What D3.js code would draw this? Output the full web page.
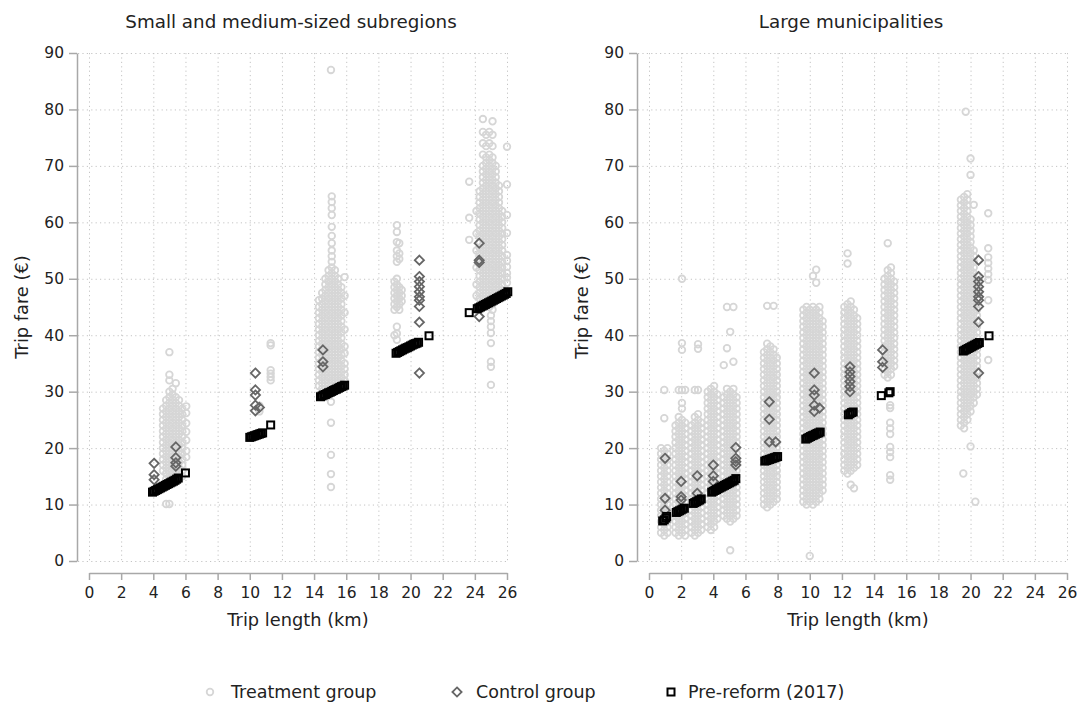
<!DOCTYPE html>
<html>
<head>
<meta charset="utf-8">
<script src="https://cdn.jsdelivr.net/npm/d3@7"></script>
<style>
  body { margin: 0; background: #fff; }
  svg { display: block; }
</style>
</head>
<body>
<svg id="chart" width="1084" height="708"></svg>
<script>
// ---- axis ticks and labels ----
const xTicks = [0, 2, 4, 6, 8, 10, 12, 14, 16, 18, 20, 22, 24, 26];
const yTicks = [0, 10, 20, 30, 40, 50, 60, 70, 80, 90];
const panelTitles = ["Small and medium-sized subregions", "Large municipalities"];
const xTitle = "Trip length (km)";
const yTitle = "Trip fare (€)";
const legendLabels = ["Treatment group", "Control group", "Pre-reform (2017)"];

// ---- Small and medium-sized subregions ----
// treatment trips: [trip length km, [fares €]]
const smallTreatment = [
  [4.6, [16,17,18,19,20,21,22,23,24,25,26,27]],
  [4.8, [10.1,14.5,15.5,16.5,17.5,18.5,19.5,20.5,21.5,22.5,23.5,24.5,25.5,26.5,27.5,28.5]],
  [5.0, [10.1,14,15,16,17,18,19,20,21,22,23,24,25,26,27,28,29,30,32,33,37]],
  [5.2, [14.5,15.5,16.5,17.5,18.5,19.5,20.5,21.5,22.5,23.5,24.5,25.5,26.5,27.5,28.5,29.5,30.5]],
  [5.4, [14,15,16,17,18,19,20,21,22,23,24,25,26,27,28,29,31.5]],
  [5.6, [14.5,15.5,16.5,17.5,18.5,19.5,20.5,21.5,22.5,23.5,24.5,25.5,26.5,27.5,28.5]],
  [5.8, [15,16,17,18,19,20,21,22,23,24,25,26,27]],
  [6.05, [18.4,19.5,21.4,22.9,24.4,26.2,27.4]],
  [10.6, [26.5,27.5]],
  [11.3, [32,32.6,33.2,33.8,38.2,38.6]],
  [14.3, [31,32,33,34,35,36,37,38,39,40,41,42,43,44,45,46.2]],
  [14.5, [30.5,31.5,32.5,33.5,34.5,35.5,36.5,37.5,38.5,39.5,40.5,41.5,42.5,43.5,44.5,45.5,46.5,47.5]],
  [14.7, [30,31,32,33,34,35,36,37,38,39,40,41,42,43,44,45,46,47,48,49,50]],
  [14.9, [29.5,30.5,31.5,32.5,33.5,34.5,35.5,36.5,37.5,38.5,39.5,40.5,41.5,42.5,43.5,44.5,45.5,46.5,47.5,48.5,49.5,50.5,51.5]],
  [15.05, [13.1,15.4,18.8,24.5,28.2,87]],
  [15.1, [30,31,32,33,34,35,36,37,38,39,40,41,42,43,44,45,46,47,48,49,50,51,52,53,54,55,56.3,57.6,59.2,61.3,62.5,63.6,64.6]],
  [15.3, [30.5,31.5,32.5,33.5,34.5,35.5,36.5,37.5,38.5,39.5,40.5,41.5,42.5,43.5,44.5,45.5,46.5,47.5,48.5,49.5,50.5,51.5]],
  [15.5, [31,32,33,34,35,36,37,38,39,40,41,42,43,44,45,46,47,48,49,50]],
  [15.7, [31.5,32.5,33.5,34.5,35.5,36.5,37.5,38.5,39.5,40.5,41.5,42.5,43.5,44.5,45.5,46.5,47.5,48.5]],
  [15.9, [32,33,34,35,36.8,38,41,44,47,50.3]],
  [19.0, [40,44.5,45.5,46.5,47.5,48.5,49.5]],
  [19.15, [39.2,40.3,41.5,45,46,47,48,49,50,53,54,55,56.5,58.3,59.5]],
  [19.3, [44.5,45.5,46.5,47.5,48.5,53.5,54.5,56.3]],
  [19.45, [46,47,48]],
  [23.65, [56.9,60.8,67.2]],
  [24.1, [47,49,52,55,58,62]],
  [24.3, [46.5,47.5,48.5,49.5,50.5,51.5,52.5,53.5,54.5,55.5,56.5,57.5,58.5,59.5,60.5,61.5,62.5,63.5,64.5,65.5]],
  [24.5, [45,46,47,48,49,50,51,52,53,54,55,56,57,58,59,60,61,62,63,64,65,66,67,68,69,70,72,74,76,78.3]],
  [24.7, [45.5,46.5,47.5,48.5,49.5,50.5,51.5,52.5,53.5,54.5,55.5,56.5,57.5,58.5,59.5,60.5,61.5,62.5,63.5,64.5,65.5,66.5,67.5,68.5,69.5,70.5,71.5,73.5,75.5]],
  [24.9, [45,46,47,48,49,50,51,52,53,54,55,56,57,58,59,60,61,62,63,64,65,66,67,68,69,70,71,72,74,76]],
  [25.0, [31.2,34.4,35.3,38.6,40.4,41.5,42.5,43.5]],
  [25.1, [44.5,45.5,46.5,47.5,48.5,49.5,50.5,51.5,52.5,53.5,54.5,55.5,56.5,57.5,58.5,59.5,60.5,61.5,62.5,63.5,64.5,65.5,66.5,67.5,68.5,69.5,70.5,71.5,73.5,75.5,77.9]],
  [25.3, [46,47,48,49,50,51,52,53,54,55,56,57,58,59,60,61,62,63,64,65,66,67,68,69,70]],
  [25.5, [46.5,47.5,48.5,49.5,50.5,51.5,52.5,53.5,54.5,55.5,56.5,57.5,58.5,59.5,60.5,61.5,62.5,63.5,64.5,65.5,66.5]],
  [25.7, [47,48,49,50,51,52,53,54,55,56,57,58,59,60,61,62]],
  [26.0, [49.3,50.2,51,52.1,53.2,54.2,58.1,61.3,66.7,73.4]]
];
// control trips: [km, €]
const smallControl = [
  [4.05,17.3],[4.05,15.3],[4.05,14.4],
  [5.4,20.2],[5.4,18.3],[5.4,17.4],[5.4,16.8],
  [10.35,33.3],[10.35,30.3],[10.35,29.4],[10.35,27.6],[10.35,26.6],[10.6,27.2],
  [14.55,37.4],[14.55,35.3],[14.55,34.4],
  [20.55,53.3],[20.55,50.4],[20.55,49.5],[20.55,48.6],[20.55,47.7],[20.55,46.8],[20.55,46.2],[20.55,45.1],[20.55,42.3],[20.55,33.3],
  [24.27,56.3],[24.27,53.3],[24.27,52.9],[24.27,43.3]
];
// pre-reform fares (2017): [km, €]
const smallPreReform = [
  [3.95,12.2],[4.05,12.35],[4.15,12.5],[4.25,12.65],[4.35,12.8],[4.45,12.95],[4.55,13.1],[4.65,13.25],[4.75,13.4],
  [4.85,13.55],[4.95,13.7],[5.05,13.85],[5.15,14.0],[5.25,14.15],[5.35,14.3],[5.45,14.5],[5.55,14.7],[6.0,15.6],
  [10.0,21.9],[10.1,22.0],[10.2,22.1],[10.3,22.2],[10.4,22.3],[10.5,22.4],[10.6,22.5],[10.7,22.6],[10.8,22.7],[11.3,24.1],
  [14.4,29.1],[14.5,29.25],[14.6,29.4],[14.7,29.5],[14.8,29.65],[14.9,29.8],[15.0,29.9],[15.1,30.05],
  [15.2,30.2],[15.3,30.35],[15.4,30.45],[15.5,30.6],[15.6,30.75],[15.7,30.9],[15.8,31.0],[15.9,31.15],
  [19.1,36.8],[19.2,36.95],[19.3,37.1],[19.4,37.25],[19.5,37.4],[19.6,37.55],[19.7,37.7],[19.8,37.8],
  [19.9,37.95],[20.0,38.1],[20.1,38.25],[20.2,38.4],[20.3,38.5],[20.4,38.6],[20.5,38.75],[21.15,39.9],
  [23.65,44.0],[24.15,44.7],[24.25,44.85],[24.35,45.0],[24.45,45.15],[24.55,45.3],[24.65,45.45],[24.75,45.6],
  [24.85,45.75],[24.95,45.9],[25.05,46.05],[25.15,46.2],[25.25,46.35],[25.35,46.5],[25.45,46.65],[25.55,46.8],
  [25.65,46.95],[25.75,47.1],[25.85,47.25],[25.95,47.4],[26.05,47.7]
];

// ---- Large municipalities ----
const largeTreatment = [
  [0.75, [5,6,7,8,9,10,11,12,13,14,15,16,17,18,19,20]],
  [0.95, [4.5,5.5,6.5,7.5,8.5,9.5,10.5,11.5,12.5,13.5,14.5,15.5,16.5,17.5,18.5,19.5,25.3,30.3]],
  [1.15, [5,6,7,8,9,10,11,12,13,14,15,16,17,18,19,20]],
  [1.65, [5,6,7,8,9,10,11,12,13,14,15,16,17,18,19,20,21,22,23,24]],
  [1.85, [4.5,5.5,6.5,7.5,8.5,9.5,10.5,11.5,12.5,13.5,14.5,15.5,16.5,17.5,18.5,19.5,20.5,21.5,22.5,23.5,24.5,25.5,30.3]],
  [2.05, [5,6,7,8,9,10,11,12,13,14,15,16,17,18,19,20,21,22,23,24,25,27,28,30.3,37.4,38.6,50]],
  [2.25, [4.5,5.5,6.5,7.5,8.5,9.5,10.5,11.5,12.5,13.5,14.5,15.5,16.5,17.5,18.5,19.5,20.5,21.5,22.5,23.5,24.5,30.3]],
  [2.65, [5,6,7,8,9,10,11,12,13,14,15,16,17,18,19,20,21,22,23,24]],
  [2.85, [4.5,5.5,6.5,7.5,8.5,9.5,10.5,11.5,12.5,13.5,14.5,15.5,16.5,17.5,18.5,19.5,20.5,21.5,22.5,23.5,24.5,25.5,30.3]],
  [3.05, [5,6,7,8,9,10,11,12,13,14,15,16,17,18,19,20,21,22,23,24,25,26,30.3,37.6,38.4]],
  [3.25, [5.5,6.5,7.5,8.5,9.5,10.5,11.5,12.5,13.5,14.5,15.5,16.5,17.5,18.5,19.5,20.5,21.5,22.5,23.5,24.5]],
  [3.65, [6,7,8,9,10,11,12,13,14,15,16,17,18,19,20,21,22,23,24,25,26,27,28,29,30]],
  [3.85, [5.5,6.5,7.5,8.5,9.5,10.5,11.5,12.5,13.5,14.5,15.5,16.5,17.5,18.5,19.5,20.5,21.5,22.5,23.5,24.5,25.5,26.5,27.5,28.5,29.5,30.5]],
  [4.05, [6,7,8,9,10,11,12,13,14,15,16,17,18,19,20,21,22,23,24,25,26,27,28,29,30,31]],
  [4.25, [7.5,8.5,9.5,10.5,11.5,12.5,13.5,14.5,15.5,16.5,17.5,18.5,19.5,20.5,21.5,22.5,23.5,24.5,25.5,26.5,27.5,28.5,29.5]],
  [4.65, [8,9,10,11,12,13,14,15,16,17,18,19,20,21,22,23,24,25,26,27,28,29,34.7]],
  [4.85, [7.5,8.5,9.5,10.5,11.5,12.5,13.5,14.5,15.5,16.5,17.5,18.5,19.5,20.5,21.5,22.5,23.5,24.5,25.5,26.5,27.5,28.5,29.5,30.5,37.7,45]],
  [5.05, [1.9,7,8,9,10,11,12,13,14,15,16,17,18,19,20,21,22,23,24,25,26,27,28,29,30,40.6]],
  [5.25, [7.5,8.5,9.5,10.5,11.5,12.5,13.5,14.5,15.5,16.5,17.5,18.5,19.5,20.5,21.5,22.5,23.5,24.5,25.5,26.5,27.5,28.5,29.5,30.5,35.3,45]],
  [5.45, [8,9,10,11,12,13,14,15,16,17,18,19,20,21,22,23,24,25,26,27,28,29]],
  [7.15, [10,11,12,13,14,15,16,17,18,19,20,21,22,23,24,25,26,27,28,29,30,31,32,33,34,35,36,37]],
  [7.35, [9.5,10.5,11.5,12.5,13.5,14.5,15.5,16.5,17.5,18.5,19.5,20.5,21.5,22.5,23.5,24.5,25.5,26.5,27.5,28.5,29.5,30.5,31.5,32.5,33.5,34.5,35.5,36.5,37.5,38.5,45.2]],
  [7.55, [10,11,12,13,14,15,16,17,18,19,20,21,22,23,24,25,26,27,28,29,30,31,32,33,34,35,36,37,38]],
  [7.75, [10.5,11.5,12.5,13.5,14.5,15.5,16.5,17.5,18.5,19.5,20.5,21.5,22.5,23.5,24.5,25.5,26.5,27.5,28.5,29.5,30.5,31.5,32.5,33.5,34.5,35.5,36.5,37.5,45.2]],
  [7.95, [11,12,13,14,15,16,17,18,19,20,21,22,23,24,25,26,27,28,29,30,31,32,33,34,35,36]],
  [9.6, [10.5,11.5,12.5,13.5,14.5,15.5,16.5,17.5,18.5,19.5,20.5,21.5,22.5,23.5,24.5,25.5,26.5,27.5,28.5,29.5,30.5,31.5,32.5,33.5,34.5,35.5,36.5,37.5,38.5,39.5,40.5,41.5,42.5,43.5,44.5]],
  [9.8, [10,11,12,13,14,15,16,17,18,19,20,21,22,23,24,25,26,27,28,29,30,31,32,33,34,35,36,37,38,39,40,41,42,43,44,45]],
  [10.0, [0.9,10.5,11.5,12.5,13.5,14.5,15.5,16.5,17.5,18.5,19.5,20.5,21.5,22.5,23.5,24.5,25.5,26.5,27.5,28.5,29.5,30.5,31.5,32.5,33.5,34.5,35.5,36.5,37.5,38.5,39.5,40.5,41.5,42.5,43.5,44.5]],
  [10.2, [10,11,12,13,14,15,16,17,18,19,20,21,22,23,24,25,26,27,28,29,30,31,32,33,34,35,36,37,38,39,40,41,42,43,44,45,50.5]],
  [10.4, [10.5,11.5,12.5,13.5,14.5,15.5,16.5,17.5,18.5,19.5,20.5,21.5,22.5,23.5,24.5,25.5,26.5,27.5,28.5,29.5,30.5,31.5,32.5,33.5,34.5,35.5,36.5,37.5,38.5,39.5,40.5,41.5,42.5,43.5,44.5,49.3,51.6]],
  [10.6, [11,12,13,14,15,16,17,18,19,20,21,22,23,24,25,26,27,28,29,30,31,32,33,34,35,36,37,38,39,40,41,42,43,44,45]],
  [10.8, [12.5,13.5,14.5,15.5,16.5,17.5,18.5,19.5,20.5,21.5,22.5,23.5,24.5,25.5,26.5,27.5,28.5,29.5,30.5,31.5,32.5,33.5,34.5,35.5,36.5,37.5,38.5,39.5,40.5,41.5,42.5]],
  [12.15, [16,17,18,19,20,21,22,23,24,25,26,27,28,29,30,31,32,33,34,35,36,37,38,39,40,41,42,43,44,45]],
  [12.35, [15.5,16.5,17.5,18.5,19.5,20.5,21.5,22.5,23.5,24.5,25.5,26.5,27.5,28.5,29.5,30.5,31.5,32.5,33.5,34.5,35.5,36.5,37.5,38.5,39.5,40.5,41.5,42.5,43.5,44.5,45.5,52.7,54.5]],
  [12.55, [13.5,16,17,18,19,20,21,22,23,24,25,26,27,28,29,30,31,32,33,34,35,36,37,38,39,40,41,42,43,44,45,46]],
  [12.75, [12.9,16.5,17.5,18.5,19.5,20.5,21.5,22.5,23.5,24.5,25.5,26.5,27.5,28.5,29.5,30.5,31.5,32.5,33.5,34.5,35.5,36.5,37.5,38.5,39.5,40.5,41.5,42.5,43.5,44.5]],
  [12.95, [17,18,19,20,21,22,23,24,25,26,27,28,29,30,31,32,33,34,35,36,37,38,39,40,41,42,43]],
  [14.65, [33,34,35,36,37,38,39,40,41,42,43,44,45,46,47,48,49,50]],
  [14.85, [32.5,33.5,34.5,35.5,36.5,37.5,38.5,39.5,40.5,41.5,42.5,43.5,44.5,45.5,46.5,47.5,48.5,49.5,50.5,51.5,56.3]],
  [15.0, [14.4,15.2,18.4,19.3,20.2,22.5,23.5,24.5,27.1,27.6]],
  [15.05, [33,34,35,36,37,38,39,40,41,42,43,44,45,46,47,48,49,50,51,52]],
  [15.25, [34.5,35.5,36.5,37.5,38.5,39.5,40.5,41.5,42.5,43.5,44.5,45.5,46.5,47.5,48.5,49.5]],
  [19.4, [24,25,26,27,28,29,30,31,32,33,34,35,36,37,38,39,40,41,42,43,44,45,46,47,48,49,50,51,52,53,54,55,56,57,58,59,60,61,62,63,64]],
  [19.55, [15.5]],
  [19.6, [23.5,24.5,25.5,26.5,27.5,28.5,29.5,30.5,31.5,32.5,33.5,34.5,35.5,36.5,37.5,38.5,39.5,40.5,41.5,42.5,43.5,44.5,45.5,46.5,47.5,48.5,49.5,50.5,51.5,52.5,53.5,54.5,55.5,56.5,57.5,58.5,59.5,60.5,61.5,62.5,63.5,64.5]],
  [19.7, [79.6]],
  [19.8, [25,26,27,28,29,30,31,32,33,34,35,36,37,38,39,40,41,42,43,44,45,46,47,48,49,50,51,52,53,54,55,56,57,58,59,60,61,62,63,64,65]],
  [20.0, [20.3,26.5,27.5,28.5,29.5,30.5,31.5,32.5,33.5,34.5,35.5,36.5,37.5,38.5,39.5,40.5,41.5,42.5,43.5,44.5,45.5,46.5,47.5,48.5,49.5,50.5,51.5,52.5,53.5,54.5,55.5,56.5,57.5,58.5,59.5,60.5,68.4,71.3]],
  [20.2, [28,29,30,31,32,33,34,35,36,37,38,39,40,41,42,43,44,45,46,47,48,49,50,51,52,53,54,55,63.1]],
  [20.3, [10.5]],
  [20.4, [29.5,30.5,31.5,32.5,33.5,34.5,35.5,36.5,37.5,38.5,39.5,40.5,41.5,42.5,43.5,44.5,45.5,46.5,47.5,48.5,49.5,50.5]],
  [21.1, [35.6,46.2,49.8,50.8,51.8,52.8,53.8,55.4,61.6]]
];
const largeControl = [
  [1.0,18.2],[1.0,11.1],[1.0,9.0],
  [2.0,14.1],[2.0,11.4],[2.0,10.8],
  [3.0,15.1],[3.0,12.0],
  [4.0,17.0],[4.0,15.1],[4.0,14.1],
  [5.4,20.1],[5.4,18.2],[5.4,17.6],[5.4,17.0],
  [7.48,28.2],[7.48,25.1],[7.48,21.1],[7.88,21.1],
  [10.28,33.3],[10.28,30.3],[10.28,29.4],[10.28,27.6],[10.28,26.5],[10.6,27.1],
  [12.5,34.4],[12.5,33.5],[12.5,32.7],[12.5,31.8],[12.5,30.9],[12.5,30.0],
  [14.53,37.4],[14.53,35.3],[14.53,34.3],
  [20.5,53.3],[20.5,50.4],[20.5,49.5],[20.5,48.6],[20.5,47.7],[20.5,46.8],[20.5,46.2],[20.5,45.1],[20.5,42.3],[20.5,33.3]
];
const largePreReform = [
  [0.85,7.1],[0.95,7.3],[1.05,7.6],[1.1,7.9],
  [1.7,8.6],[1.8,8.75],[1.9,8.9],[2.0,9.05],[2.1,9.2],[2.2,9.35],
  [2.75,10.2],[2.85,10.35],[2.95,10.5],[3.05,10.65],[3.15,10.8],[3.25,11.0],
  [3.9,12.2],[4.0,12.35],[4.1,12.5],[4.2,12.65],[4.3,12.8],[4.4,12.95],[4.5,13.1],[4.6,13.25],
  [4.7,13.4],[4.8,13.55],[4.9,13.7],[5.0,13.85],[5.1,14.0],[5.2,14.15],[5.3,14.3],[5.4,14.6],
  [7.2,17.7],[7.3,17.8],[7.4,17.9],[7.5,18.0],[7.6,18.1],[7.7,18.2],[7.8,18.3],[7.9,18.4],[8.0,18.5],
  [9.75,21.6],[9.85,21.75],[9.95,21.9],[10.05,22.05],[10.15,22.2],[10.25,22.3],[10.35,22.45],[10.45,22.6],[10.55,22.7],[10.65,22.85],
  [12.4,25.9],[12.5,26.1],[12.6,26.3],[12.7,26.4],
  [14.45,29.3],[14.92,29.8],[15.0,30.0],
  [19.55,37.2],[19.65,37.35],[19.75,37.5],[19.85,37.65],[19.95,37.8],[20.05,37.95],[20.15,38.1],
  [20.25,38.25],[20.35,38.4],[20.45,38.55],[20.55,38.7],[21.15,39.9]
];

// ---- drawing ----
const FONT = "'DejaVu Sans', sans-serif";
const TREAT_COLOR = "#d6d6d6";
const CTRL_COLOR = "#666666";
const AXIS_COLOR = "#a8a8a8";
const GRID_COLOR = "#c4c4c4";
const TEXT_COLOR = "#222";

const svg = d3.select("#chart");

const diamondPath = h => `M0,${-h}L${h},0L0,${h}L${-h},0Z`;

const panels = [
  { dx: 0,   title: panelTitles[0], treat: smallTreatment, ctrl: smallControl, pre: smallPreReform },
  { dx: 560, title: panelTitles[1], treat: largeTreatment, ctrl: largeControl, pre: largePreReform }
];

panels.forEach(p => {
  const g = svg.append("g").attr("transform", `translate(${p.dx},0)`);
  const x = d3.scaleLinear().domain([0, 26]).range([89, 507]);
  const y = d3.scaleLinear().domain([0, 90]).range([561, 53]);
  const axisX = 77;

  // dotted grid
  const grid = g.append("g")
    .attr("stroke", GRID_COLOR)
    .attr("stroke-width", 1)
    .attr("stroke-dasharray", "1.2,3.2");
  grid.selectAll("line.h").data(yTicks).join("line").attr("class", "h")
    .attr("x1", axisX + 1).attr("x2", x(26))
    .attr("y1", d => y(d) + 0.5).attr("y2", d => y(d) + 0.5);
  grid.selectAll("line.v").data(xTicks).join("line").attr("class", "v")
    .attr("x1", d => x(d) + 0.5).attr("x2", d => x(d) + 0.5)
    .attr("y1", y(90)).attr("y2", y(0));

  // axes
  const yAxis = g.append("g")
    .attr("transform", `translate(${axisX},0)`)
    .call(d3.axisLeft(y).tickValues(yTicks).tickSize(8).tickSizeOuter(0).tickPadding(5));
  const xAxis = g.append("g")
    .attr("transform", "translate(0,573)")
    .call(d3.axisBottom(x).tickValues(xTicks).tickSize(7).tickSizeOuter(0).tickPadding(7));
  [yAxis, xAxis].forEach(a => {
    a.attr("font-family", FONT).attr("font-size", 15.5);
    a.select(".domain").attr("stroke", AXIS_COLOR).attr("stroke-width", 1.5);
    a.selectAll(".tick line").attr("stroke", AXIS_COLOR).attr("stroke-width", 1.5);
    a.selectAll(".tick text").attr("fill", TEXT_COLOR);
  });

  // titles
  g.append("text")
    .attr("x", 291).attr("y", 28)
    .attr("text-anchor", "middle")
    .attr("font-family", FONT).attr("font-size", 18.3).attr("fill", TEXT_COLOR)
    .text(p.title);
  g.append("text")
    .attr("x", 298).attr("y", 626)
    .attr("text-anchor", "middle")
    .attr("font-family", FONT).attr("font-size", 17.8).attr("fill", TEXT_COLOR)
    .text(xTitle);
  g.append("text")
    .attr("transform", "translate(28,307) rotate(-90)")
    .attr("text-anchor", "middle")
    .attr("font-family", FONT).attr("font-size", 17.8).attr("fill", TEXT_COLOR)
    .text(yTitle);

  // treatment trips
  const treatPts = p.treat.flatMap(([km, fares]) => fares.map(f => [km, f]));
  g.append("g").selectAll("circle").data(treatPts).join("circle")
    .attr("cx", d => x(d[0])).attr("cy", d => y(d[1])).attr("r", 3.3)
    .attr("fill", "none").attr("stroke", TREAT_COLOR).attr("stroke-width", 1.8);

  // control trips
  g.append("g").selectAll("path").data(p.ctrl).join("path")
    .attr("transform", d => `translate(${x(d[0])},${y(d[1])})`)
    .attr("d", diamondPath(4.6))
    .attr("fill", "none").attr("stroke", CTRL_COLOR).attr("stroke-width", 1.8);

  // pre-reform fares
  g.append("g").selectAll("rect").data(p.pre).join("rect")
    .attr("x", d => x(d[0]) - 3.5).attr("y", d => y(d[1]) - 3.5)
    .attr("width", 7).attr("height", 7)
    .attr("fill", "none").attr("stroke", "#000").attr("stroke-width", 2);
});

// legend
const legend = svg.append("g").attr("font-family", FONT).attr("font-size", 17.5).attr("fill", TEXT_COLOR);
const legendItems = [
  { mx: 210, tx: 231, label: legendLabels[0] },
  { mx: 457, tx: 476, label: legendLabels[1] },
  { mx: 671, tx: 688, label: legendLabels[2] }
];
const ly = 692;
legend.append("circle").attr("cx", legendItems[0].mx).attr("cy", ly).attr("r", 3.3)
  .attr("fill", "none").attr("stroke", TREAT_COLOR).attr("stroke-width", 1.8);
legend.append("path").attr("transform", `translate(${legendItems[1].mx},${ly})`)
  .attr("d", diamondPath(4.6)).attr("fill", "none").attr("stroke", CTRL_COLOR).attr("stroke-width", 1.8);
legend.append("rect").attr("x", legendItems[2].mx - 3.5).attr("y", ly - 3.5).attr("width", 7).attr("height", 7)
  .attr("fill", "none").attr("stroke", "#000").attr("stroke-width", 2);
legend.selectAll("text").data(legendItems).join("text")
  .attr("x", d => d.tx).attr("y", ly + 6)
  .text(d => d.label);
</script>
</body>
</html>
